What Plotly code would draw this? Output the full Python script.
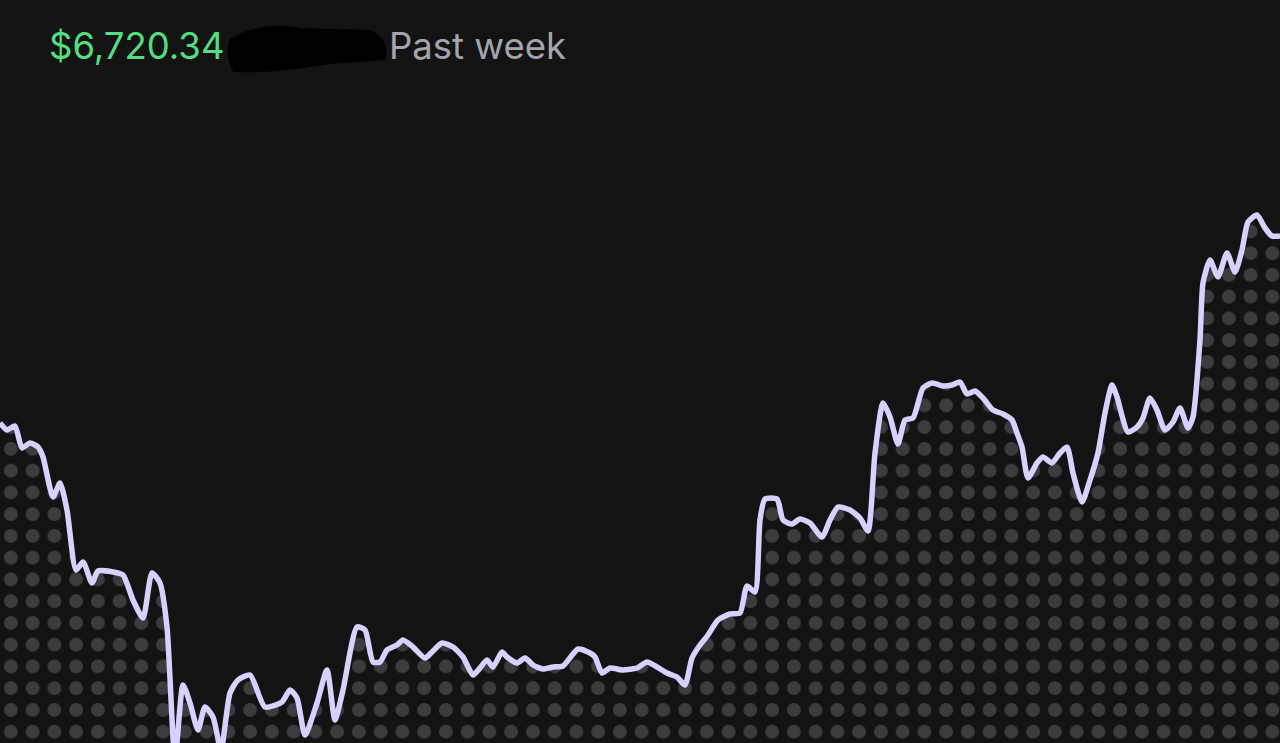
import plotly.graph_objects as go

# Time position across the week (arbitrary units) and portfolio level (arbitrary units)
t = [0, 7, 15, 22, 30, 38, 43, 53, 60, 67, 76, 83, 92, 98, 113, 123, 133, 143, 152, 160,
     167, 175, 183, 190, 198, 205, 213, 221, 230, 238, 250, 265, 282, 290, 297, 305, 317,
     327, 335, 343, 357, 365, 373, 380, 387, 397, 403, 413, 425, 432, 442, 453, 463, 473,
     480, 487, 493, 502, 507, 517, 525, 533, 543, 553, 563, 578, 590, 595, 602, 610, 623,
     637, 647, 657, 667, 677, 685, 692, 700, 708, 718, 730, 740, 747, 755, 760, 765, 777,
     783, 792, 800, 810, 822, 830, 838, 850, 860, 868, 875, 883, 890, 898, 905, 913, 923,
     932, 943, 952, 960, 967, 975, 983, 993, 1003, 1012, 1017, 1022, 1028, 1037, 1043,
     1052, 1060, 1067, 1073, 1082, 1090, 1098, 1105, 1112, 1117, 1128, 1137, 1143, 1150,
     1157, 1165, 1173, 1180, 1188, 1193, 1200, 1203, 1210, 1218, 1227, 1235, 1242, 1248,
     1257, 1265, 1272, 1280]

value = [320, 313, 317, 295, 300, 296, 286, 246, 260, 233, 173, 181, 160, 172, 171, 168,
         143, 125, 170, 160, 116, -17, 58, 40, 13, 36, 26, -7, 50, 63, 68, 36, 41, 53, 45,
         8, 40, 73, 23, 53, 116, 113, 81, 81, 93, 98, 103, 96, 85, 91, 100, 96, 86, 68,
         75, 83, 76, 91, 86, 80, 85, 78, 74, 76, 77, 94, 90, 86, 70, 75, 73, 75, 81, 76,
         70, 66, 58, 85, 98, 108, 123, 129, 130, 157, 151, 223, 244, 244, 223, 219, 224,
         220, 206, 223, 236, 233, 225, 212, 290, 340, 326, 299, 323, 325, 355, 360, 357,
         358, 361, 349, 352, 345, 333, 329, 323, 310, 296, 265, 280, 286, 280, 290, 296,
         270, 241, 263, 290, 330, 358, 346, 311, 316, 325, 345, 333, 313, 321, 335, 315,
         326, 403, 460, 483, 466, 490, 471, 493, 521, 528, 515, 507, 507]

BG = "#131313"

fig = go.Figure()
fig.add_trace(go.Scatter(
    x=t, y=value,
    mode="lines",
    line=dict(color="#d9d0ff", width=5.5, shape="spline", smoothing=0.6),
    fill="tozeroy",
    fillcolor=BG,
    fillpattern=dict(shape=".", size=21.75, solidity=0.32,
                     fgcolor="#66656b", bgcolor=BG),
    hoverinfo="skip",
    showlegend=False,
))

# redaction scribble in the header (overlay, not data)
fig.add_shape(
    type="path",
    path="M 230,703 Q 262,722 300,714 L 370,712 Q 388,704 385,684 L 330,680 Q 270,670 234,672 Q 226,686 230,703 Z",
    xref="x", yref="y",
    fillcolor="#000000", line=dict(color="#000000", width=2),
)

fig.add_annotation(text="$6,720.34", xref="paper", yref="paper",
                   x=47 / 1280, y=(743 - 46) / 740, xanchor="left", yanchor="middle",
                   showarrow=False,
                   font=dict(family="Inter, Roboto, sans-serif", size=36.5, color="#55dd82"))
fig.add_annotation(text="Past week", xref="paper", yref="paper",
                   x=387 / 1280, y=(743 - 46) / 740, xanchor="left", yanchor="middle",
                   showarrow=False,
                   font=dict(family="Inter, Roboto, sans-serif", size=36.5, color="#a4a4ae"))

fig.update_layout(
    width=1280, height=743,
    margin=dict(l=0, r=0, t=3, b=0),
    paper_bgcolor=BG, plot_bgcolor=BG,
    xaxis=dict(range=[0, 1280], visible=False, fixedrange=True),
    yaxis=dict(range=[0, 740], visible=False, fixedrange=True),
    hovermode=False,
)

fig.write_html(
    "out.html",
    config={"displayModeBar": False},
    post_script="document.body.style.margin='0';document.body.style.overflow='hidden';document.body.style.background='#131313';",
)
